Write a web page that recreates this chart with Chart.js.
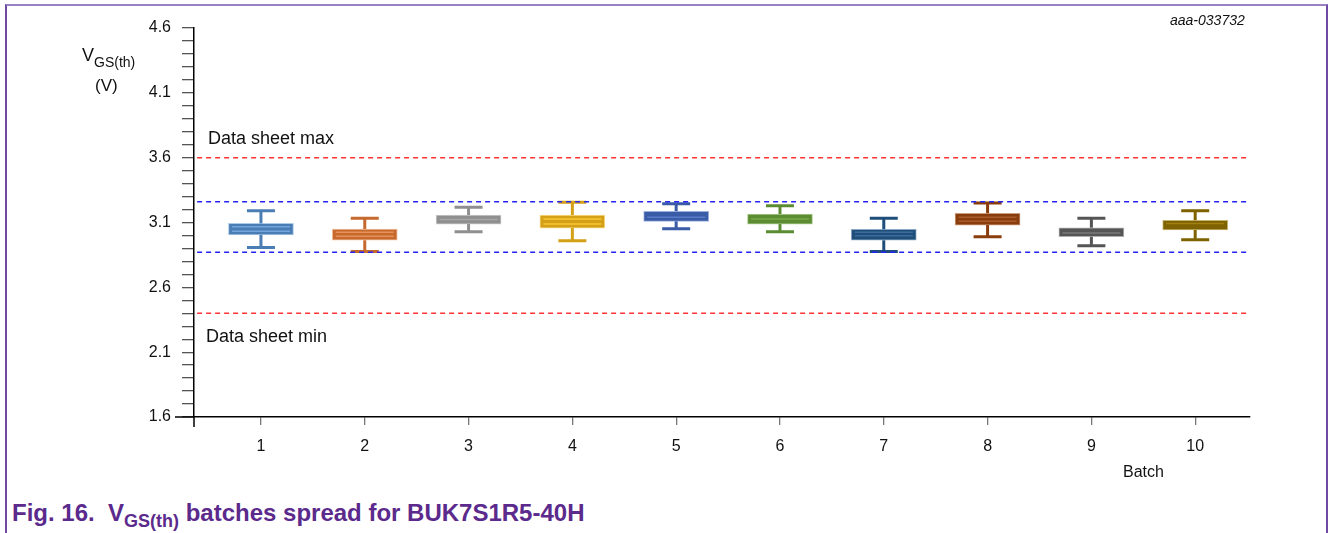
<!DOCTYPE html>
<html>
<head>
<meta charset="utf-8">
<script src="https://cdn.jsdelivr.net/npm/chart.js@4.4.1/dist/chart.umd.min.js"></script>
<style>
  body { margin: 0; background: #fff; font-family: "Liberation Sans", Arial, sans-serif; }
  #page { position: relative; width: 1328px; height: 533px; overflow: hidden; }
  #frame { position: absolute; left: 5px; top: 4px; width: 1319px; height: 560px;
    border-left: 2px solid #6e4aa3; border-right: 2px solid #6e4aa3; border-top: 2px solid #9a80c4; }
  #c { position: absolute; left: 0; top: 0; }
  .lbl { position: absolute; color: #111; white-space: nowrap; }
  .lbl sub { font-size: 14px; vertical-align: -6px; line-height: 0; }
  #title { position: absolute; left: 12px; top: 499px; font-weight: bold; font-size: 24px;
    color: #5b2a8c; white-space: nowrap; }
  #title sub { font-size: 18px; vertical-align: -6px; line-height: 0; }
</style>
</head>
<body>
<div id="page">
  <div id="frame"></div>
  <canvas id="c" width="1300" height="480"></canvas>
  <div class="lbl" style="left:82px; top:45px; font-size:18px;">V<sub>GS(th)</sub></div>
  <div class="lbl" style="left:95px; top:76px; font-size:17px;">(V)</div>
  <div class="lbl" style="left:1170px; top:12px; font-size:14px; font-style:italic;">aaa-033732</div>
  <div class="lbl" style="left:208px; top:128px; font-size:18px;">Data sheet max</div>
  <div class="lbl" style="left:206px; top:326px; font-size:18px;">Data sheet min</div>
  <div class="lbl" style="left:1123px; top:463px; font-size:16px;">Batch</div>
  <div id="title">Fig. 16.&nbsp; V<sub>GS(th)</sub> batches spread for BUK7S1R5-40H</div>
</div>
<script>
  const batches = [1, 2, 3, 4, 5, 6, 7, 8, 9, 10];
  const whiskerMax = [3.191, 3.132, 3.217, 3.256, 3.245, 3.229, 3.132, 3.25, 3.132, 3.191];
  const q3 = [3.093, 3.049, 3.158, 3.158, 3.186, 3.165, 3.047, 3.171, 3.059, 3.117];
  const q1 = [3.005, 2.964, 3.088, 3.057, 3.109, 3.088, 2.964, 3.08, 2.99, 3.042];
  const whiskerMin = [2.908, 2.877, 3.029, 2.959, 3.052, 3.029, 2.877, 2.99, 2.92, 2.967];
  const median = [3.067, 3.024, 3.123, 3.127, 3.14, 3.127, 3.024, 3.14, 3.019, 3.093];
  const mean = [3.032, 2.993, 3.123, 3.088, 3.14, 3.127, 2.998, 3.109, 3.019, 3.093];

  const dataSheetMax = 3.6;
  const dataSheetMin = 2.4;
  const spreadUpper = 3.26;
  const spreadLower = 2.87;

  const yMin = 1.6;
  const yMax = 4.6;
  const xMin = 0.355;
  const xMax = 10.528;

  const boxColors = ["#4a7db3", "#c5692c", "#8f8f8f", "#d4a017", "#3a5ba6",
    "#5b8c32", "#1f4e7a", "#8a3d0c", "#555555", "#7f6200"];
  const lightColors = ["#72a6dc", "#e8925a", "#a6a6a6", "#f9c736", "#5a7cc8",
    "#7aab4e", "#3d6c9b", "#aa5c2a", "#7a7a7a", "#9f8012"];

  // whiskers behind the boxes, median/mean stripes on top
  const boxPlot = {
    id: "boxPlot",
    beforeDatasetsDraw(chart) {
      const { ctx, scales: { x, y } } = chart;
      ctx.save();
      ctx.lineWidth = 3;
      batches.forEach((b, i) => {
        const cx = x.getPixelForValue(b);
        ctx.strokeStyle = boxColors[i];
        ctx.beginPath();
        ctx.moveTo(cx, y.getPixelForValue(whiskerMax[i]));
        ctx.lineTo(cx, y.getPixelForValue(q3[i]));
        ctx.moveTo(cx, y.getPixelForValue(q1[i]));
        ctx.lineTo(cx, y.getPixelForValue(whiskerMin[i]));
        ctx.moveTo(cx - 14, y.getPixelForValue(whiskerMax[i]));
        ctx.lineTo(cx + 14, y.getPixelForValue(whiskerMax[i]));
        ctx.moveTo(cx - 14, y.getPixelForValue(whiskerMin[i]));
        ctx.lineTo(cx + 14, y.getPixelForValue(whiskerMin[i]));
        ctx.stroke();
      });
      ctx.restore();
    },
    afterDatasetsDraw(chart) {
      const { ctx, scales: { x, y } } = chart;
      ctx.save();
      ctx.lineWidth = 1.5;
      batches.forEach((b, i) => {
        const cx = x.getPixelForValue(b);
        ctx.strokeStyle = lightColors[i];
        ctx.beginPath();
        [median[i], mean[i]].forEach((v) => {
          const py = y.getPixelForValue(v);
          ctx.moveTo(cx - 29, py);
          ctx.lineTo(cx + 29, py);
        });
        ctx.stroke();
      });
      ctx.restore();
    },
    afterDraw(chart) {
      const { ctx, chartArea } = chart;
      ctx.save();
      ctx.strokeStyle = "#000";
      ctx.lineWidth = 1.5;
      ctx.beginPath();
      ctx.moveTo(chartArea.left - 19, chartArea.bottom);
      ctx.lineTo(chartArea.left, chartArea.bottom);
      ctx.moveTo(chartArea.left, chartArea.bottom);
      ctx.lineTo(chartArea.left, chartArea.bottom + 10);
      ctx.stroke();
      ctx.restore();
    },
  };

  const refLine = (value, color) => ({
    type: "line",
    data: [{ x: xMin + 0.03, y: value }, { x: xMax, y: value }],
    borderColor: color,
    borderWidth: 1.5,
    borderDash: [5, 4],
    pointRadius: 0,
    fill: false,
  });

  new Chart(document.getElementById("c"), {
    type: "bar",
    data: {
      datasets: [
        refLine(dataSheetMax, "#ff3535"),
        refLine(dataSheetMin, "#ff3535"),
        refLine(spreadUpper, "#2424f2"),
        refLine(spreadLower, "#2424f2"),
        {
          type: "bar",
          data: batches.map((b, i) => ({ x: b, y: [q1[i], q3[i]] })),
          backgroundColor: boxColors,
          borderColor: lightColors.map((c) => c + "99"),
          borderWidth: 1,
          borderSkipped: false,
          barThickness: 65,
        },
      ],
    },
    options: {
      responsive: false,
      animation: false,
      layout: { padding: { left: 0, top: 28, right: 50, bottom: 0 } },
      plugins: { legend: { display: false }, tooltip: { enabled: false } },
      scales: {
        x: {
          type: "linear",
          min: xMin,
          max: xMax,
          offset: false,
          afterFit: (scale) => { scale.height = 63; },
          border: { color: "#000", width: 1.5 },
          grid: { offset: false, drawOnChartArea: false, drawTicks: true, tickLength: 8, color: "#777", lineWidth: 1.3 },
          ticks: {
            stepSize: 1,
            includeBounds: false,
            autoSkip: false,
            maxRotation: 0,
            padding: 12,
            color: "#111",
            font: { family: "'Liberation Sans', Arial, sans-serif", size: 16 },
            callback: (v) => (Number.isInteger(v) ? String(v) : ""),
          },
        },
        y: {
          type: "linear",
          min: yMin,
          max: yMax,
          afterFit: (scale) => { scale.width = 194; },
          border: { color: "#000", width: 1.5 },
          grid: { drawOnChartArea: false, drawTicks: true, tickLength: 12, color: "#555", lineWidth: 1.3 },
          ticks: {
            stepSize: 0.1,
            autoSkip: false,
            padding: 11,
            color: "#111",
            font: { family: "'Liberation Sans', Arial, sans-serif", size: 16 },
            callback: (v) => {
              const k = Math.round((v - yMin) * 10);
              return k % 5 === 0 ? v.toFixed(1) : "";
            },
          },
        },
      },
    },
    plugins: [boxPlot],
  });
</script>
</body>
</html>
